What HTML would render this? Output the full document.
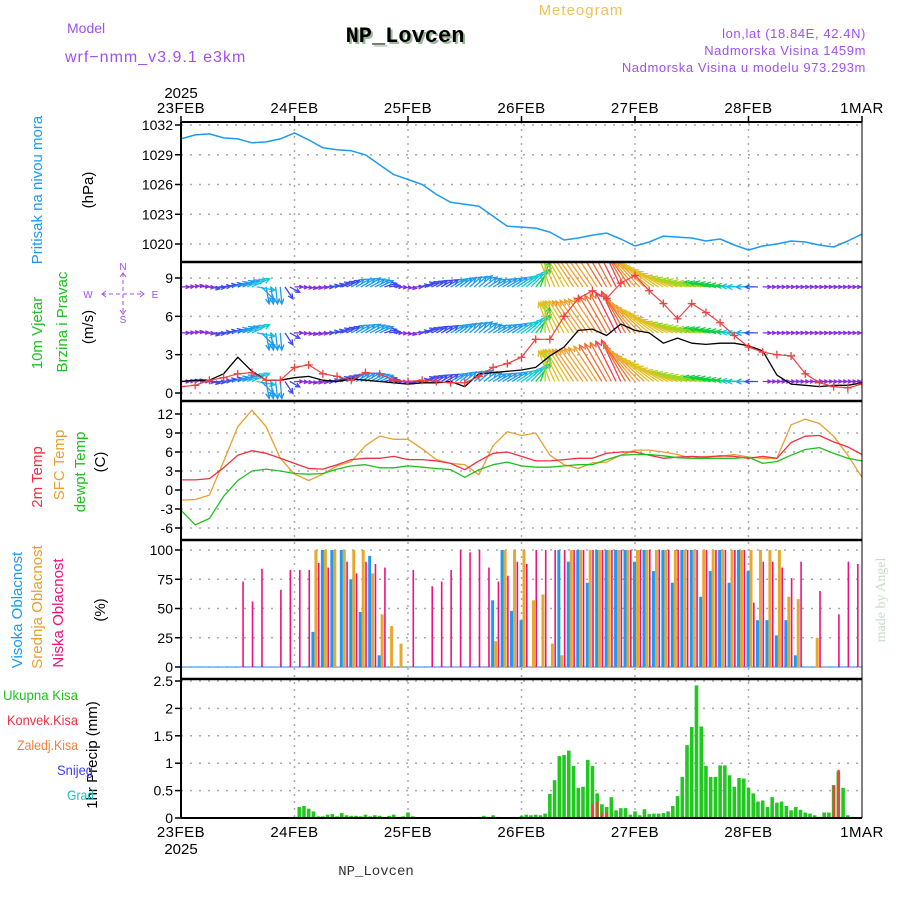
<!DOCTYPE html>
<html><head><meta charset="utf-8"><style>
html,body{margin:0;padding:0;background:#fff;}
svg{display:block;font-family:"Liberation Sans",sans-serif;}
</style></head><body>
<svg id="chart" width="900" height="900" viewBox="0 0 900 900" xmlns="http://www.w3.org/2000/svg">
<defs>
<clipPath id="windClip"><rect x="181" y="263" width="681" height="137"/></clipPath>
</defs>
<g>
<text x="581" y="15" font-size="15" fill="#f0c060" text-anchor="middle" letter-spacing="1">Meteogram</text>
<text x="67" y="33" font-size="14" fill="#a050f0">Model</text>
<text x="65" y="62" font-size="16" fill="#a050f0" letter-spacing="1">wrf−nmm_v3.9.1 e3km</text>
<text x="407" y="44" font-size="22" font-weight="bold" font-family="Liberation Mono, monospace" fill="#9bb89b" text-anchor="middle">NP_Lovcen</text>
<text x="405" y="42" font-size="22" font-weight="bold" font-family="Liberation Mono, monospace" fill="#000" text-anchor="middle">NP_Lovcen</text>
<text x="866" y="38" font-size="13" fill="#a050f0" text-anchor="end" letter-spacing="0.6">lon,lat (18.84E, 42.4N)</text>
<text x="866" y="55" font-size="13" fill="#a050f0" text-anchor="end" letter-spacing="0.6">Nadmorska Visina 1459m</text>
<text x="866" y="72" font-size="13" fill="#a050f0" text-anchor="end" letter-spacing="0.6">Nadmorska Visina u modelu 973.293m</text>
</g>
<g id="grid"></g>
<g id="marks"></g>
<g id="axes"></g>
<g font-size="15">
<text transform="translate(42,190) rotate(-90)" text-anchor="middle" fill="#1e9af0">Pritisak na nivou mora</text>
<text transform="translate(93,190) rotate(-90)" text-anchor="middle" fill="#000">(hPa)</text>
<text transform="translate(42,333) rotate(-90)" text-anchor="middle" fill="#20c020">10m Vjetar</text>
<text transform="translate(67,322) rotate(-90)" text-anchor="middle" fill="#20c020">Brzina i Pravac</text>
<text transform="translate(93,327) rotate(-90)" text-anchor="middle" fill="#000">(m/s)</text>
<text transform="translate(42,477) rotate(-90)" text-anchor="middle" fill="#f03040">2m Temp</text>
<text transform="translate(64,465) rotate(-90)" text-anchor="middle" fill="#e8a030">SFC Temp</text>
<text transform="translate(85,472) rotate(-90)" text-anchor="middle" fill="#20c020">dewpt Temp</text>
<text transform="translate(105,462) rotate(-90)" text-anchor="middle" fill="#000">(C)</text>
<text transform="translate(22,610) rotate(-90)" text-anchor="middle" fill="#1e9af0">Visoka Oblacnost</text>
<text transform="translate(42,607) rotate(-90)" text-anchor="middle" fill="#e8a030">Srednja Oblacnost</text>
<text transform="translate(63,613) rotate(-90)" text-anchor="middle" fill="#f01080">Niska Oblacnost</text>
<text transform="translate(105,610) rotate(-90)" text-anchor="middle" fill="#000">(%)</text>
<text transform="translate(97,755) rotate(-90)" text-anchor="middle" fill="#000">1hr Precip (mm)</text>
<text x="3" y="700" font-size="14" textLength="75" lengthAdjust="spacingAndGlyphs" fill="#20c020">Ukupna Kisa</text>
<text x="7" y="725" font-size="14" textLength="71" lengthAdjust="spacingAndGlyphs" fill="#f03040">Konvek.Kisa</text>
<text x="17" y="750" font-size="14" textLength="61" lengthAdjust="spacingAndGlyphs" fill="#f08040">Zaledj.Kisa</text>
<text x="57" y="775" font-size="14" textLength="36" lengthAdjust="spacingAndGlyphs" fill="#4040f0">Snijeg</text>
<text x="67" y="800" font-size="14" textLength="27" lengthAdjust="spacingAndGlyphs" fill="#20c0c0">Grad</text>
<text transform="translate(885,600) rotate(-90)" text-anchor="middle" fill="#c8dcc8" font-family="Liberation Serif, serif" font-size="14">made by Angel</text>
<text x="376" y="875" text-anchor="middle" font-family="Liberation Mono, monospace" font-size="14" fill="#333">NP_Lovcen</text>
</g>
<g fill="#a050f0" stroke="#a050f0" font-size="10">
<text x="123" y="270" text-anchor="middle" stroke="none">N</text>
<text x="123" y="323" text-anchor="middle" stroke="none">S</text>
<text x="88" y="298" text-anchor="middle" stroke="none">W</text>
<text x="155" y="298" text-anchor="middle" stroke="none">E</text>
<line x1="102" y1="294" x2="144" y2="294" stroke-width="1" stroke-dasharray="4,3"/>
<line x1="123" y1="273" x2="123" y2="314" stroke-width="1" stroke-dasharray="4,3"/>
<polyline points="106,291 102,294 106,297" fill="none" stroke-width="1"/>
<polyline points="140,291 144,294 140,297" fill="none" stroke-width="1"/>
<polyline points="120,277 123,273 126,277" fill="none" stroke-width="1"/>
<polyline points="120,310 123,314 126,310" fill="none" stroke-width="1"/>
</g>
</svg>
<script>
// ---- data ----
const dayLabels = ["23FEB","24FEB","25FEB","26FEB","27FEB","28FEB","1MAR"];
const pressureTicks = [1020,1023,1026,1029,1032];
const windTicks = [0,3,6,9];
const tempTicks = [-6,-3,0,3,6,9,12];
const cloudTicks = [0,25,50,75,100];
const precipTicks = [0,0.5,1,1.5,2,2.5];
const pressure = [1030.6,1031.0,1031.1,1030.7,1030.6,1030.2,1030.3,1030.6,1031.2,1030.5,1029.7,1029.5,1029.4,1029.0,1028.0,1027.0,1026.5,1026.0,1025.0,1024.2,1024.0,1023.8,1022.8,1021.8,1021.7,1021.6,1021.2,1020.4,1020.6,1020.9,1021.1,1020.5,1019.8,1020.2,1020.8,1020.7,1020.6,1020.3,1020.5,1019.9,1019.4,1019.8,1020.0,1020.3,1020.2,1019.9,1019.7,1020.3,1021.0];
const windDir = [0,10,-10,10,20,25,-80,-85,0,-10,0,20,30,30,25,0,-10,20,30,30,40,40,30,30,35,50,110,120,125,125,120,115,130,140,150,160,165,170,170,175,180,0,0,0,0,0,0,0,0];
const windSpeed = [2,2,3,4,6,7,6,6,2,2,3,4,5,6,5,2,2,4,4,5,5,6,5,6,7,9,13,15,16,17,18,19,17,15,14,13,12,11,10,9,8,2,2,2,2,2,2,2,2];
const windRows = [8.3,4.7,0.9];
const wind10m = [0.9,1.0,1.0,1.5,2.8,1.7,1.0,1.0,1.2,1.3,1.0,0.9,1.1,1.0,0.9,0.8,0.7,0.8,0.8,0.9,0.5,1.5,1.6,1.7,1.8,2.0,2.9,3.6,4.9,5.0,4.5,5.4,4.9,4.7,3.9,4.3,3.9,3.8,3.9,3.9,3.7,3.3,1.4,0.7,0.6,0.5,0.6,0.6,0.8];
const windGust = [0.5,0.6,1.0,1.2,1.5,1.6,1.0,1.0,2.0,2.2,1.5,1.3,1.0,1.6,1.5,1.0,0.9,1.0,0.9,0.8,0.8,1.3,2.0,2.3,2.8,4.2,4.2,6.0,7.4,8.0,7.4,8.6,9.2,8.0,7.0,5.8,7.0,6.3,5.5,4.5,3.6,3.2,3.0,2.9,1.5,0.8,0.5,0.4,0.7];
const temp2m = [1.6,1.6,1.8,3.5,5.5,6.2,5.8,5.0,4.2,3.4,3.3,4.0,4.8,5.0,5.0,5.3,4.8,4.8,4.6,4.2,3.2,4.6,5.8,6.0,5.3,4.6,4.6,4.8,5.0,5.0,5.8,6.0,6.0,5.5,5.0,5.2,5.3,5.2,5.4,5.3,5.0,5.3,5.0,7.5,8.5,8.6,7.6,6.8,5.6];
const tempSfc = [-1.6,-1.5,-0.8,4.5,10,12.6,10,5,2.5,1.5,2.5,3.8,4.5,7,8.5,8,8,6.5,4.8,4.2,4.0,2.4,7,9.2,8.6,9.0,5.5,4.0,3.4,4.3,4.4,5.5,6.3,6.3,6.0,5.6,5.0,5.3,5.3,5.6,5.2,5.0,5.0,10.3,11.2,10.5,8.5,5.5,2.0];
const tempDew = [-3.2,-5.5,-4.5,-1,1.5,3.0,3.3,3.0,2.6,2.5,2.6,3.3,3.8,4.0,3.5,3.5,3.8,3.6,3.4,3.2,2.0,3.2,4.0,4.4,3.8,3.6,3.6,3.8,4.0,4.0,4.8,5.5,5.6,5.6,5.4,5.1,5.0,5.0,5.0,5.0,5.2,4.2,4.5,5.5,6.4,6.7,5.8,5.0,4.6];
const cloudLow = [0,0,0,0,0,0,73,56,84,0,66,83,83,83,89,85,0,90,80,90,88,85,0,0,83,0,69,73,83,100,98,100,85,73,78,90,88,100,100,100,100,100,100,100,100,100,100,100,100,100,100,100,100,100,100,100,100,100,100,100,55,90,90,85,76,90,0,65,0,45,90,88];
const cloudMid = [0,0,0,0,0,0,0,0,0,0,0,0,0,0,100,100,100,100,100,100,80,45,35,20,0,0,0,0,0,0,0,0,0,22,100,100,100,57,62,20,10,100,100,100,100,100,100,100,100,100,100,100,100,100,100,100,100,100,100,100,100,100,100,100,60,58,0,25,0,0,0,0];
const cloudHigh = [0,0,0,0,0,0,0,0,0,0,0,0,0,0,30,100,100,100,75,47,95,10,0,0,0,0,0,0,0,0,0,0,0,57,100,48,40,0,0,0,100,90,100,72,100,100,100,100,90,100,82,100,72,100,100,60,82,100,72,100,82,40,40,27,40,10,0,0,0,0,0,0];
const precipTotal = [0,0,0,0,0,0,0,0,0,0,0,0,0,0,0,0,0,0,0,0,0,0,0,0,0.02,0.2,0.22,0.17,0.12,0.03,0.03,0.06,0.07,0.03,0.09,0.05,0.04,0.04,0.03,0.06,0.03,0.05,0.04,0.02,0.04,0.06,0.02,0.03,0.1,0.03,0,0,0,0,0,0,0,0,0.01,0,0,0.02,0,0.02,0.04,0,0.05,0.02,0,0,0.01,0,0.04,0.06,0.05,0.06,0.05,0.08,0.44,0.69,1.13,1.15,1.23,0.95,0.55,0.57,1.06,0.95,0.45,0.25,0.2,0.38,0.14,0.18,0.18,0.06,0.12,0.05,0.16,0.07,0.08,0.08,0.09,0.12,0.22,0.4,0.75,1.33,1.66,2.42,1.67,0.95,0.75,0.75,0.96,0.96,0.78,0.57,0.73,0.72,0.55,0.45,0.3,0.32,0.2,0.38,0.28,0.3,0.22,0.14,0.2,0.15,0.1,0.08,0.05,0.02,0.1,0.1,0.6,0.85,0.55,0.05,0.02,0.01];
const convHours = [87,88,89,90,138,139];
const convValues = [0.25,0.3,0.1,0.1,0.6,0.88];

// ---- scales ----
const NS="http://www.w3.org/2000/svg";
const X0=181, X1=862, HOURS=144;
const xh = h => X0 + (X1-X0)*h/HOURS;
const yP = v => 244 - (v-1020)*119/12;
const yW = v => 393 - v*115/9;
const yT = v => 528 - (v+6)*114/18;
const yC = v => 667 - v*1.17;
const yR = v => 818 - v*54.8;
const gridG=document.getElementById('grid'), marksG=document.getElementById('marks'), axesG=document.getElementById('axes');
function mk(tag, attrs, parent){const e=document.createElementNS(NS,tag);for(const k in attrs)e.setAttribute(k,attrs[k]);parent.appendChild(e);return e;}
function stepH(arr){return HOURS/(arr.length-1);}

// ---- grid ----
for(let d=1; d<dayLabels.length-1; d++){
  const ln=mk('line',{x1:xh(d*24),x2:xh(d*24),y1:122,y2:818,stroke:'#aaa','stroke-width':1.5,'stroke-dasharray':'2,5'},gridG);
  
  
}
function hGrid(ticks, yf, tickName){
  ticks.forEach(t=>{
    const ln=mk('line',{x1:X0,x2:X1,y1:yf(t),y2:yf(t),stroke:'#aaa','stroke-width':1.5,'stroke-dasharray':'2,7'},gridG);
    
    
    const tk=mk('line',{x1:X0-6,x2:X0,y1:yf(t),y2:yf(t),stroke:'#000','stroke-width':1.5},axesG);
    
    
    const lb=mk('text',{x:X0-8,y:yf(t)+5,'font-size':14,'text-anchor':'end',fill:'#000'},axesG);
    
    
    lb.textContent=String(t);
  });
}
hGrid(pressureTicks,yP,'pressure-tick-label');
hGrid(windTicks,yW,'wind-tick-label');
hGrid(tempTicks,yT,'temp-tick-label');
hGrid(cloudTicks,yC,'cloud-tick-label');
hGrid(precipTicks,yR,'precip-tick-label');

// ---- axes ----
const la=mk('line',{x1:X0,x2:X0,y1:122,y2:818,stroke:'#000','stroke-width':2},axesG);


const ra=mk('line',{x1:X1,x2:X1,y1:122,y2:818,stroke:'#000','stroke-width':1},axesG);


[122,262,401,540,679,818].forEach(y=>{
  const b=mk('line',{x1:X0,x2:X1,y1:y,y2:y,stroke:'#000','stroke-width':y===122||y===818?2:2.5},axesG);
  
  
});
dayLabels.forEach((d,i)=>{
  const x=xh(i*24);
  const t1=mk('text',{x:x,y:113,'font-size':15,'text-anchor':'middle',fill:'#000','letter-spacing':0.5},axesG);
  
  
  t1.textContent=d;
  const t2=mk('text',{x:x,y:837,'font-size':15,'text-anchor':'middle',fill:'#000','letter-spacing':0.5},axesG);
  
  
  t2.textContent=d;
  const tk=mk('line',{x1:x,x2:x,y1:116,y2:122,stroke:'#000','stroke-width':1.5},axesG);
  
  
});
const y1=mk('text',{x:X0,y:98,'font-size':15,'text-anchor':'middle',fill:'#000'},axesG);


y1.textContent='2025';
const y2=mk('text',{x:X0,y:854,'font-size':15,'text-anchor':'middle',fill:'#000'},axesG);


y2.textContent='2025';

// ---- series lines ----
function line(arr, yf, color, w, name, parent){
  const s=stepH(arr);
  const pts=arr.map((v,i)=>xh(i*s).toFixed(1)+','+yf(v).toFixed(1)).join(' ');
  const p=mk('polyline',{points:pts,fill:'none',stroke:color,'stroke-width':w,'stroke-linejoin':'round'},parent||marksG);
  
  
}
line(pressure,yP,'#1e9af0',1.5,'pressure-line');

// wind arrows
function speedColor(s){
  const stops=[[0,'#8a2be2'],[3,'#3a4cf0'],[5,'#1e9af0'],[6.5,'#10c8d8'],[8.5,'#10d040'],[11,'#a0d820'],[13,'#e0c020'],[15.5,'#f0a030'],[17.5,'#f07030'],[18.5,'#f04050'],[20,'#f010a0']];
  let c=stops[0][1]; stops.forEach(st=>{if(s>=st[0])c=st[1];}); return c;
}
const wg=mk('g',{'clip-path':'url(#windClip)'},marksG);


const ws=stepH(windDir);
for(let sub=0; sub<3; sub++){
  windDir.forEach((d,i)=>{
    if(i===windDir.length-1 && sub>0) return;
    const i2=Math.min(i+1,windDir.length-1), f=sub/3;
    const dir=d + (windDir[i2]-d)*f*(Math.abs(windDir[i2]-d)<120?1:0);
    const sp=windSpeed[i]+(windSpeed[i2]-windSpeed[i])*f;
    windRows.forEach(r=>{
      const x=xh((i+f)*ws), y=yW(r);
      const L=4+sp*2.2, a=dir*Math.PI/180;
      const tx=x+L*Math.cos(a), ty=y-L*Math.sin(a);
      const hl=Math.min(6,2+L*0.25);
      const b1=a+Math.PI-0.45, b2=a+Math.PI+0.45;
      const c=speedColor(sp);
      const ar=mk('path',{d:`M${x.toFixed(1)},${y.toFixed(1)}L${tx.toFixed(1)},${ty.toFixed(1)}M${(tx+hl*Math.cos(b1)).toFixed(1)},${(ty-hl*Math.sin(b1)).toFixed(1)}L${tx.toFixed(1)},${ty.toFixed(1)}L${(tx+hl*Math.cos(b2)).toFixed(1)},${(ty-hl*Math.sin(b2)).toFixed(1)}`,stroke:c,'stroke-width':1.3,fill:'none'},wg);
      
      
    });
  });
}
line(wind10m,yW,'#000',1.3,'wind-speed-line',wg);
line(windGust,yW,'#f04040',1.2,'wind-gust-line',wg);
const gs=stepH(windGust);
windGust.forEach((v,i)=>{
  const x=xh(i*gs), y=yW(v);
  const c=mk('path',{d:`M${x-4},${y}h8M${x},${y-4}v8`,stroke:'#f04040','stroke-width':1.3},wg);
  
  
});

// temps
line(tempSfc,yT,'#e8a030',1.3,'sfc-temp-line');
line(temp2m,yT,'#f03040',1.3,'temp-2m-line');
line(tempDew,yT,'#20c020',1.3,'dewpt-line');

// clouds
const cb=mk('line',{x1:X0,x2:X1,y1:yC(0),y2:yC(0),stroke:'#6ab0e8','stroke-width':1.5},marksG);


const cs=HOURS/cloudLow.length;
cloudMid.forEach((v,i)=>{ if(v<=0) return;
  const r=mk('rect',{x:xh(i*cs)+1,y:yC(v),width:3,height:yC(0)-yC(v),fill:'#e8a830'},marksG);
  
  
});
cloudHigh.forEach((v,i)=>{ if(v<=0) return;
  const r=mk('rect',{x:xh(i*cs)-2,y:yC(v),width:3,height:yC(0)-yC(v),fill:'#1e9af0'},marksG);
  
  
});
cloudLow.forEach((v,i)=>{ if(v<=0) return;
  const r=mk('rect',{x:xh(i*cs)+4.5,y:yC(v),width:1.6,height:yC(0)-yC(v),fill:'#f01080'},marksG);
  
  
});

// precip
precipTotal.forEach((v,h)=>{ if(v<=0) return;
  const r=mk('rect',{x:xh(h)-1.8,y:yR(v),width:3.6,height:yR(0)-yR(v),fill:'#20c820'},marksG);
  
  
});
convHours.forEach((h,k)=>{
  const v=convValues[k];
  const r=mk('rect',{x:xh(h)-1,y:yR(v),width:2.4,height:yR(0)-yR(v),fill:'#f04040'},marksG);
  
  
});
</script>
</body></html>
